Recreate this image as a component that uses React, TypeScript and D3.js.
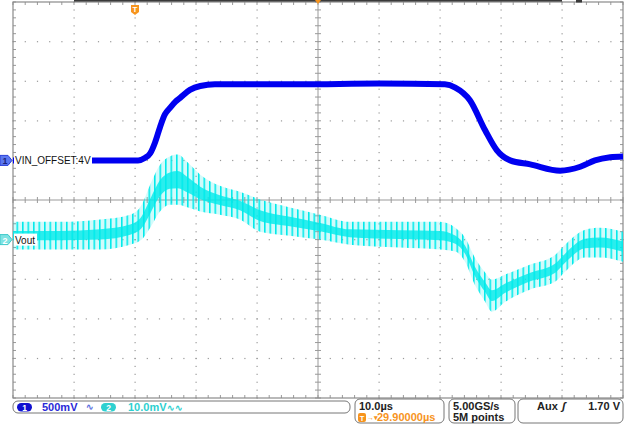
import React from 'react';
import * as d3 from 'd3';

// ---- data ----
// Channel 1 (VIN, 500 mV/div, offset 4 V): time in µs, volts
const ch1Time = [0, 20.5, 21.6, 22.5, 23.3, 24.1, 24.9, 25.7, 26.6, 27.4, 29.0, 30.7, 33.1, 47.0, 60.0, 70.8, 72.5, 74.9, 77.4, 79.3, 81.5, 84.8, 89.7, 93.0, 95.4, 97.9, 100];
const ch1Volts = [4.0, 4.0, 4.03, 4.09, 4.23, 4.42, 4.58, 4.66, 4.74, 4.79, 4.89, 4.94, 4.96, 4.96, 4.97, 4.96, 4.92, 4.76, 4.38, 4.13, 4.0, 3.95, 3.87, 3.92, 4.0, 4.04, 4.05];

// Channel 2 (Vout, 10 mV/div, AC): ripple envelope in mV relative to marker
const ch2Time = [0, 7.7, 14.3, 19.2, 21.1, 22.5, 24.1, 25.7, 27.0, 28.7, 30.7, 33.9, 37.2, 40.5, 45.4, 50.3, 55.2, 63.4, 70.0, 72.5, 74.1, 75.7, 77.4, 78.5, 80.7, 84.8, 88.9, 90.5, 93.8, 96.2, 100];
const ch2High = [4.5, 4.5, 5.1, 6.3, 8.8, 13.9, 18.9, 21.0, 21.5, 19.4, 16.4, 13.6, 12.1, 10.1, 8.1, 6.3, 4.5, 4.5, 4.5, 3.0, 0.5, -4.5, -8.3, -10.1, -8.8, -6.3, -3.8, -1.3, 2.5, 3.0, 2.0];
const ch2Low = [-2.5, -2.5, -2.5, -1.3, 0.0, 3.0, 7.1, 8.8, 8.8, 8.1, 7.1, 6.3, 5.1, 2.0, 1.0, 0.0, -1.3, -2.0, -2.5, -3.0, -5.6, -11.4, -15.7, -18.2, -15.7, -12.6, -10.6, -8.1, -4.5, -4.5, -5.6];

const ch1Label = 'VIN_OFFSET:4V';
const ch2Label = 'Vout';
const ch1Scale = '500mV';
const ch2Scale = '10.0mV';
const timeScale = '10.0µs';
const trigDelay = '29.90000µs';
const sampleRate = '5.00GS/s';
const recordLen = '5M points';
const trigSrc = 'Aux';
const trigLevel = '1.70 V';

// ---- geometry ----
const W = 626, H = 425;
const L = 13, R = 623, T = 2, B = 398;
const CH1_POS = 1, CH1_OFF = 4, CH1_VDIV = 0.5;
const CH2_POS = -1, CH2_VDIV = 10;

const BLUE = '#0000f0';
const CYAN = '#00eaea';
const ORANGE = '#f7941d';
const GRID = '#9a9a9a';
const FONT = 'Liberation Sans, Arial, sans-serif';

export default function App() {
  const x = d3.scaleLinear().domain([0, 100]).range([L, R]);
  const y = d3.scaleLinear().domain([-5, 5]).range([B, T]);
  const xd = d3.scaleLinear().domain([0, 10]).range([L, R]);
  const cx = xd(5), cy = y(0);

  const ch1Y = (v: number) => y(CH1_POS + (v - CH1_OFF) / CH1_VDIV);
  const ch2Y = (mv: number) => y(CH2_POS + mv / CH2_VDIV);

  const ch1Pts = ch1Time.map((t, i) => [t, ch1Volts[i]] as [number, number]);
  const ch1Path = d3.line<[number, number]>().x(d => x(d[0])).y(d => ch1Y(d[1])).curve(d3.curveMonotoneX)(ch1Pts) || '';

  const ch2Idx = ch2Time.map((_, i) => i);
  const ch2Area = d3.area<number>().x(i => x(ch2Time[i])).y0(i => ch2Y(ch2Low[i])).y1(i => ch2Y(ch2High[i])).curve(d3.curveMonotoneX)(ch2Idx) || '';
  const ch2Core = d3.area<number>().x(i => x(ch2Time[i]))
    .y0(i => ch2Y(ch2Low[i] + (ch2High[i] - ch2Low[i]) * 0.33))
    .y1(i => ch2Y(ch2High[i] - (ch2High[i] - ch2Low[i]) * 0.33))
    .curve(d3.curveMonotoneX)(ch2Idx) || '';

  // grid dots
  const minorX = d3.range(0, 50.001, 1).map(i => xd(i / 5));
  const minorY = d3.range(0, 50.001, 1).map(i => y(-5 + i / 5));
  const majorX = d3.range(1, 10).map(i => xd(i));
  const majorY = d3.range(-4, 5).map(i => y(i));

  const dots: JSX.Element[] = [];
  majorY.forEach((yy, j) => {
    if (Math.abs(yy - cy) < 1) return;
    minorX.forEach((xx, i) => dots.push(<rect key={`h${j}-${i}`} x={xx - 0.5} y={yy - 0.5} width={1.2} height={1.2} fill={GRID} />));
  });
  majorX.forEach((xx, j) => {
    if (Math.abs(xx - cx) < 1) return;
    minorY.forEach((yy, i) => dots.push(<rect key={`v${j}-${i}`} x={xx - 0.5} y={yy - 0.5} width={1.2} height={1.2} fill={GRID} />));
  });

  const ticks: JSX.Element[] = [];
  minorX.forEach((xx, i) => {
    ticks.push(<line key={`cxt${i}`} x1={xx} x2={xx} y1={cy - 3} y2={cy + 3} stroke={GRID} strokeWidth={1} />);
    ticks.push(<line key={`bt${i}`} x1={xx} x2={xx} y1={B - 3} y2={B} stroke={GRID} strokeWidth={1} />);
    ticks.push(<line key={`tt${i}`} x1={xx} x2={xx} y1={T} y2={T + 3} stroke={GRID} strokeWidth={1} />);
  });
  minorY.forEach((yy, i) => {
    ticks.push(<line key={`cyt${i}`} x1={cx - 3} x2={cx + 3} y1={yy} y2={yy} stroke={GRID} strokeWidth={1} />);
    ticks.push(<line key={`lt${i}`} x1={L} x2={L + 3} y1={yy} y2={yy} stroke={GRID} strokeWidth={1} />);
    ticks.push(<line key={`rt${i}`} x1={R - 3} x2={R} y1={yy} y2={yy} stroke={GRID} strokeWidth={1} />);
  });

  const m1 = ch1Y(CH1_OFF);
  const m2 = ch2Y(0);

  return (
    <svg width={W} height={H} style={{ position: 'absolute', left: 0, top: 0, background: '#fff' }} fontFamily={FONT}>
      <defs>
        <pattern id="ripple" patternUnits="userSpaceOnUse" width={5.5} height={H}>
          <rect x={0} y={0} width={1.6} height={H} fill={CYAN} />
          <rect x={1.6} y={0} width={3.9} height={H} fill={CYAN} opacity={0.18} />
        </pattern>
        <clipPath id="plot"><rect x={L} y={T} width={R - L} height={B - T} /></clipPath>
      </defs>
      <rect x={0} y={0} width={W} height={H} fill="#fff" />
      {dots}
      <line x1={L} x2={R} y1={cy} y2={cy} stroke={GRID} strokeWidth={1} />
      <line x1={cx} x2={cx} y1={T} y2={B} stroke={GRID} strokeWidth={1} />
      {ticks}
      <rect x={L} y={T} width={R - L} height={B - T} fill="none" stroke="#8a8a8a" strokeWidth={1.2} />

      <g clipPath="url(#plot)">
        <path d={ch2Area} fill="url(#ripple)" />
        <path d={ch2Core} fill={CYAN} opacity={0.8} />
        <path d={ch1Path} fill="none" stroke={BLUE} strokeWidth={6} strokeLinejoin="round" />
      </g>

      {/* top record bar & markers */}
      <rect x={xd(1)} y={0} width={xd(9) - xd(1)} height={1.6} fill="#3a3a3a" />
      <rect x={576} y={0} width={6} height={2.5} fill="#3a3a3a" />
      <path d={`M${cx - 3},0 L${cx + 3},0 L${cx},4 Z`} fill={ORANGE} />
      <g transform={`translate(${x(20)},0)`}>
        <path d="M-4,5 h8 v7 l-4,3 l-4,-3 Z" fill={ORANGE} />
        <text x={0} y={12} fontSize={8} fontWeight="bold" fill="#fff" textAnchor="middle">T</text>
      </g>

      {/* channel labels */}
      <rect x={L + 1} y={m1 - 6} width={78} height={12} fill="#fff" />
      <text x={L + 2} y={m1 + 4} fontSize={10} fill="#111">{ch1Label}</text>
      <rect x={L + 1} y={m2 - 6} width={23} height={12} fill="#fff" />
      <text x={L + 2} y={m2 + 4} fontSize={10} fill="#111">{ch2Label}</text>
      <path d={`M0,${m1 - 5} h8 l4,5 l-4,5 h-8 Z`} fill="#5b78f0" stroke="#2a3fd8" strokeWidth={1} />
      <text x={5} y={m1 + 4} fontSize={9} fontWeight="bold" fill="#1a237e" textAnchor="middle">1</text>
      <path d={`M0,${m2 - 5} h8 l4,5 l-4,5 h-8 Z`} fill="#7fe3e3" stroke="#3fc9c9" strokeWidth={1} />
      <text x={5} y={m2 + 4} fontSize={9} fontWeight="bold" fill="#fff" textAnchor="middle">2</text>

      {/* status bar */}
      <rect x={13} y={401} width={337} height={12} rx={5} fill="#fff" stroke="#777" strokeWidth={1} />
      <rect x={17} y={403} width={15} height={8.5} rx={4.2} fill="#1010d0" />
      <text x={24.5} y={410.5} fontSize={8.5} fontWeight="bold" fill="#fff" textAnchor="middle">1</text>
      <text x={42} y={411} fontSize={11} fontWeight="bold" fill="#2a2ad8">{ch1Scale}</text>
      <text x={86} y={410} fontSize={9} fontWeight="bold" fill="#5a70e0">∿</text>
      <rect x={101} y={403} width={15} height={8.5} rx={4.2} fill="#2ed0d0" />
      <text x={108.5} y={410.5} fontSize={8.5} fontWeight="bold" fill="#fff" textAnchor="middle">2</text>
      <text x={128} y={411} fontSize={11} fontWeight="bold" fill="#2ed0d0">{ch2Scale}<tspan fontSize={9}>∿∿</tspan></text>

      <rect x={355} y={399} width={89} height={24} rx={5} fill="#fff" stroke="#777" strokeWidth={1} />
      <text x={359} y={410} fontSize={11} fontWeight="bold" fill="#222">{timeScale}</text>
      <rect x={358} y={413} width={8} height={9} rx={2} fill={ORANGE} />
      <text x={362} y={420.5} fontSize={7.5} fontWeight="bold" fill="#fff" textAnchor="middle">T</text>
      <text x={367} y={420} fontSize={7} fontWeight="bold" fill={ORANGE}>→▾</text>
      <text x={377} y={421} fontSize={11} fontWeight="bold" fill={ORANGE}>{trigDelay}</text>

      <rect x={449} y={399} width={66} height={24} rx={5} fill="#fff" stroke="#777" strokeWidth={1} />
      <text x={453} y={410} fontSize={11} fontWeight="bold" fill="#222">{sampleRate}</text>
      <text x={453} y={421} fontSize={11} fontWeight="bold" fill="#222">{recordLen}</text>

      <rect x={518} y={399} width={105} height={24} rx={5} fill="#fff" stroke="#777" strokeWidth={1} />
      <text x={537} y={410} fontSize={11} fontWeight="bold" fill="#222">{trigSrc}</text>
      <text x={562} y={410} fontSize={11} fontWeight="bold" fill="#222" fontStyle="italic">ʃ</text>
      <text x={620} y={410} fontSize={11} fontWeight="bold" fill="#222" textAnchor="end">{trigLevel}</text>
    </svg>
  );
}
